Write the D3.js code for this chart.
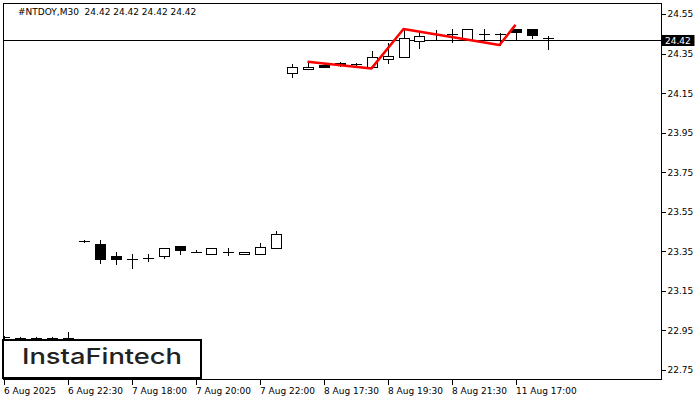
<!DOCTYPE html>
<html>
<head>
<meta charset="utf-8">
<script src="https://cdn.jsdelivr.net/npm/d3@7"></script>
<style>
  html, body { margin: 0; padding: 0; background: #fff; }
  svg { display: block; }
</style>
</head>
<body>
<svg id="chart" width="700" height="400"></svg>
<script>
// ---- data ----
const symbolTitle = "#NTDOY,M30  24.42 24.42 24.42 24.42";
const opens  = [22.915,22.91,22.91,22.91,22.90, 23.400,23.387,23.327,23.312,23.318,23.327,23.377,23.348,23.337,23.348,23.335,23.335,23.365,
                24.253,24.272,24.294,24.297,24.296,24.280,24.321,24.331,24.413,24.449,24.449,24.424,24.449,24.449,24.474,24.474,24.430];
const highs  = [22.920,22.917,22.917,22.918,22.941, 23.407,23.407,23.345,23.335,23.335,23.366,23.378,23.355,23.366,23.365,23.345,23.390,23.453,
                24.296,24.309,24.296,24.309,24.304,24.363,24.402,24.470,24.464,24.469,24.474,24.475,24.474,24.452,24.476,24.475,24.440];
const lows   = [22.890,22.880,22.880,22.880,22.860, 23.398,23.293,23.285,23.264,23.303,23.315,23.337,23.345,23.336,23.332,23.335,23.335,23.365,
                24.230,24.272,24.280,24.287,24.287,24.278,24.304,24.331,24.380,24.419,24.410,24.424,24.419,24.393,24.424,24.430,24.371];
const closes = [22.915,22.91,22.91,22.91,22.91, 23.402,23.313,23.313,23.310,23.318,23.365,23.357,23.348,23.365,23.348,23.345,23.373,23.436,
                24.280,24.284,24.282,24.304,24.296,24.334,24.339,24.431,24.440,24.449,24.449,24.474,24.449,24.449,24.461,24.444,24.430];
const timeTickIndex  = [0, 4, 8, 12, 16, 20, 24, 28, 32];
const timeTickLabels = ["6 Aug 2025","6 Aug 22:30","7 Aug 18:00","7 Aug 20:00","7 Aug 22:00","8 Aug 17:30","8 Aug 19:30","8 Aug 21:30","11 Aug 17:00"];
const priceTicks = [24.55,24.35,24.15,23.95,23.75,23.55,23.35,23.15,22.95,22.75];
const currentPrice = 24.42;
// pattern polyline (candle index, price)
const patternIdx    = [19, 23, 25, 31, 32];
const patternPrices = [24.308, 24.275, 24.474, 24.393, 24.495];

// ---- layout ----
const L = 3.5, R = 661.5, T = 3.5, B = 379.5;
const svg = d3.select("#chart");
const x = d3.scaleLinear().domain([0, 34]).range([3.5, 547.5]);
const y = d3.scaleLinear().domain([22.75, 24.55]).range([370, 14]);
const FONT = "DejaVu Sans, Verdana, sans-serif";

svg.append("defs").append("clipPath").attr("id","plot")
  .append("rect").attr("x", L).attr("y", T).attr("width", R - L).attr("height", B - T);

// frame
svg.append("rect").attr("x", L).attr("y", T).attr("width", R - L).attr("height", B - T)
  .attr("fill", "#fff").attr("stroke", "#000").attr("stroke-width", 1);

const plot = svg.append("g").attr("clip-path", "url(#plot)");

// current price line
plot.append("line")
  .attr("x1", L).attr("x2", R)
  .attr("y1", Math.round(y(currentPrice)) + 0.5).attr("y2", Math.round(y(currentPrice)) + 0.5)
  .attr("stroke", "#000").attr("stroke-width", 1);

// candles
const data = opens.map((o, i) => ({i, o, h: highs[i], l: lows[i], c: closes[i]}));
const px = v => Math.round(v) + 0.5;
const bw = 11;
const g = plot.append("g").attr("shape-rendering", "crispEdges");
g.selectAll("line.wick").data(data).join("line")
  .attr("class","wick")
  .attr("x1", d => px(x(d.i))).attr("x2", d => px(x(d.i)))
  .attr("y1", d => Math.round(y(d.h))).attr("y2", d => Math.round(y(d.l)) + 1)
  .attr("stroke", "#000");
g.selectAll("g.body").data(data).join("g").attr("class","body")
.each(function(d) {
  const sel = d3.select(this);
  const top = Math.round(y(Math.max(d.o, d.c)));
  const bot = Math.round(y(Math.min(d.o, d.c)));
  const cx = Math.round(x(d.i));
  if (bot - top < 1) {
    sel.append("line")
      .attr("x1", cx - 5).attr("x2", cx + 6)
      .attr("y1", top + 0.5).attr("y2", top + 0.5)
      .attr("stroke", "#000");
  } else if (d.c >= d.o) {
    sel.append("rect")
      .attr("x", cx - 5 + 0.5).attr("y", top + 0.5)
      .attr("width", bw - 1).attr("height", bot - top)
      .attr("fill", "#fff").attr("stroke", "#000");
  } else {
    sel.append("rect")
      .attr("x", cx - 5).attr("y", top)
      .attr("width", bw).attr("height", bot - top + 1)
      .attr("fill", "#000");
  }
});

// pattern line
const pat = patternIdx.map((k, j) => [x(k), y(patternPrices[j])]);
plot.append("path")
  .attr("d", d3.line()(pat))
  .attr("fill", "none").attr("stroke", "#ff0000").attr("stroke-width", 2.5)
  .attr("stroke-linejoin", "round");

// right axis
const yAxis = svg.append("g").attr("transform", `translate(${R},0)`)
  .call(d3.axisRight(y).tickValues(priceTicks).tickFormat(d3.format(".2f")).tickSize(4).tickPadding(2));
yAxis.select(".domain").remove();
yAxis.selectAll("line").attr("stroke", "#000").attr("shape-rendering","crispEdges");
yAxis.selectAll("text").attr("font-family", FONT).attr("font-size", 9).attr("fill", "#000");

// current price label
const cy = Math.round(y(currentPrice));
svg.append("rect").attr("x", R).attr("y", cy - 5).attr("width", 33).attr("height", 11).attr("fill", "#000");
svg.append("text").attr("x", 665).attr("y", cy + 0.5).attr("dy", "0.35em")
  .attr("font-family", FONT).attr("font-size", 9).attr("fill", "#fff").text(d3.format(".2f")(currentPrice));

// bottom axis
const xAxis = svg.append("g").attr("transform", `translate(0,${B})`)
  .call(d3.axisBottom(x).tickValues(timeTickIndex).tickFormat((d, j) => timeTickLabels[j]).tickSize(5).tickPadding(3));
xAxis.select(".domain").remove();
xAxis.selectAll("line").attr("stroke", "#000").attr("shape-rendering","crispEdges");
xAxis.selectAll("text").attr("font-family", FONT).attr("font-size", 9).attr("fill", "#000")
  .attr("text-anchor", "start").attr("x", 0);

// title
svg.append("text").attr("x", 18).attr("y", 15)
  .attr("font-family", FONT).attr("font-size", 9).attr("fill", "#000")
  .attr("xml:space", "preserve").style("white-space", "pre").text(symbolTitle);

// logo
svg.append("rect").attr("x", 3).attr("y", 340).attr("width", 198).attr("height", 38)
  .attr("fill", "#fff").attr("stroke", "#000").attr("stroke-width", 2);
svg.append("text").attr("x", 22).attr("y", 364)
  .attr("font-family", "Inter, 'Open Sans', sans-serif").attr("font-size", 22).attr("font-weight", 500)
  .attr("fill", "#222").attr("textLength", 160).attr("lengthAdjust", "spacingAndGlyphs")
  .text("InstaFintech");
</script>
</body>
</html>
